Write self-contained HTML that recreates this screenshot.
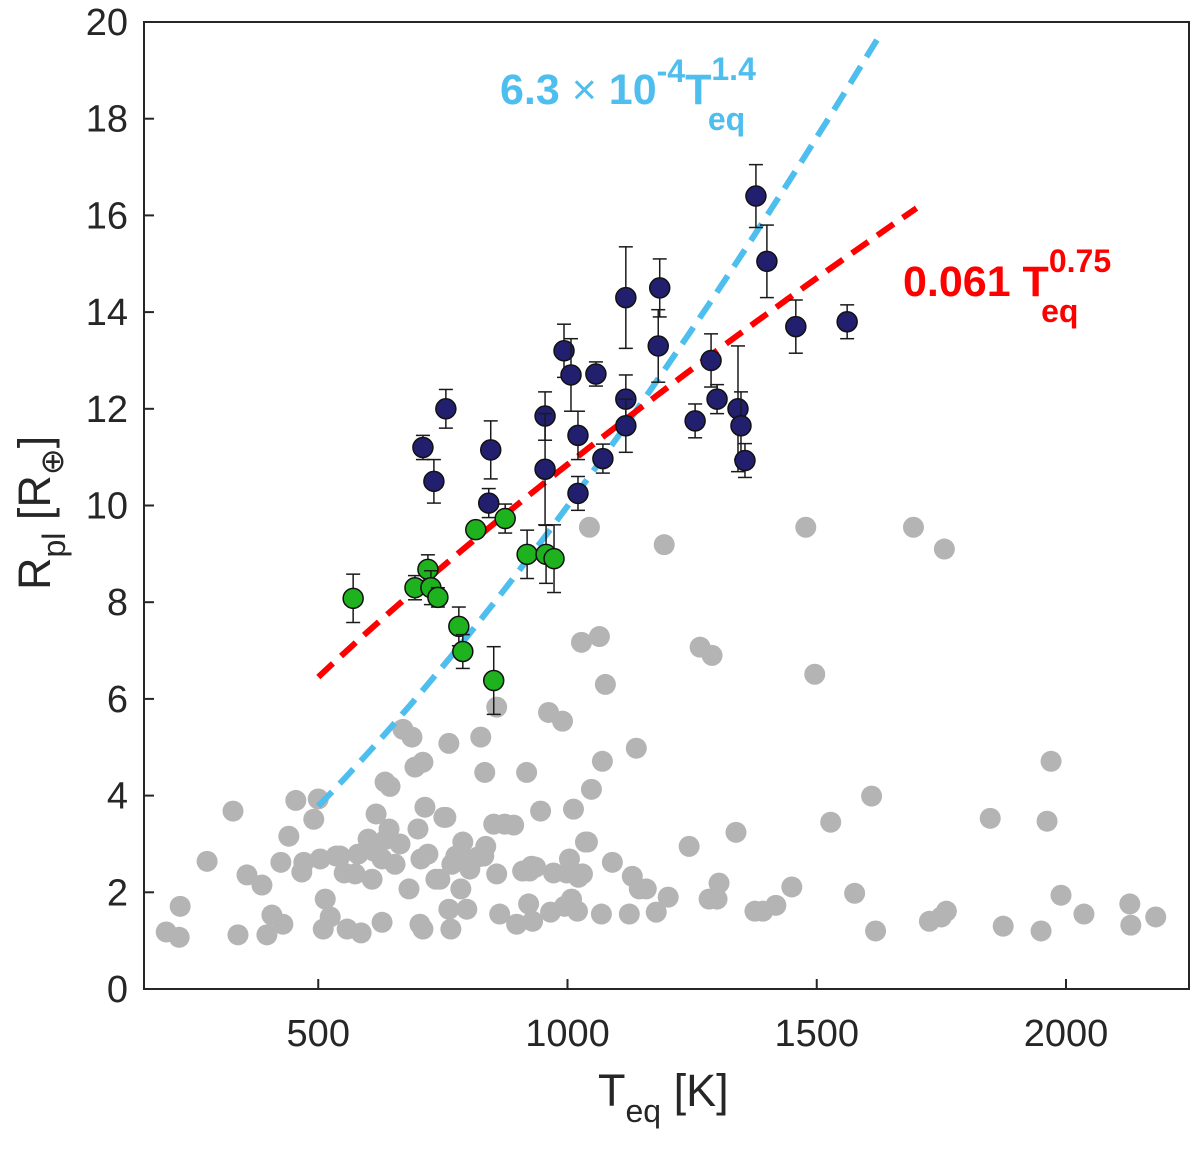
<!DOCTYPE html>
<html><head><meta charset="utf-8"><style>
html,body{margin:0;padding:0;background:#fff;}
svg text{font-family:"Liberation Sans",Arial,sans-serif;fill:#262626;}
</style></head><body>
<svg id="chart" width="1200" height="1145" viewBox="0 0 1200 1145" xmlns="http://www.w3.org/2000/svg">
<g id="plot"></g>
</svg>
<script>
const greyT=[195,221,223,277,329,339,357,387,397,407,425,429,441,455,467,471,491,500,504,510,514,524,536,544,552,558,574,580,586,600,608,612,616,628,628,634,636,642,644,654,664,670,682,688,694,700,704,706,710,710,714,720,736,744,752,756,762,762,766,768,776,786,790,794,798,804,820,826,832,834,836,852,858,858,864,874,892,898,910,918,922,924,928,930,936,946,962,966,972,990,994,998,1004,1008,1012,1020,1022,1030,1036,1040,1044,1048,1028,1064,1068,1070,1076,1090,1124,1130,1138,1144,1158,1178,1194,1202,1244,1266,1284,1290,1300,1304,1338,1376,1392,1418,1450,1478,1496,1528,1576,1610,1618,1694,1726,1750,1760,1756,1848,1874,1950,1962,1970,1990,2036,2128,2130,2180];
const greyR=[1.18,1.07,1.71,2.64,3.68,1.12,2.36,2.15,1.12,1.53,2.62,1.34,3.16,3.9,2.42,2.62,3.51,3.93,2.69,1.24,1.86,1.49,2.75,2.75,2.4,1.24,2.38,2.79,1.16,3.1,2.27,2.85,3.62,2.69,1.38,4.28,3.1,3.31,4.19,2.58,3.0,5.37,2.07,5.21,4.59,3.31,1.34,2.69,1.24,4.69,3.76,2.79,2.27,2.27,3.55,3.55,5.08,1.65,1.24,2.58,2.75,2.07,3.04,2.69,1.65,2.48,2.73,5.21,2.75,4.48,2.95,3.41,5.83,2.38,1.55,3.41,3.39,1.34,2.44,4.48,1.76,2.44,2.54,1.4,2.52,3.68,5.72,1.59,2.4,5.54,1.71,2.4,2.69,1.86,3.72,1.61,2.31,2.38,3.04,3.04,9.55,4.13,7.17,7.29,1.55,4.71,6.3,2.62,1.55,2.33,4.98,2.07,2.07,1.59,9.19,1.9,2.95,7.07,1.86,6.9,1.86,2.19,3.24,1.61,1.61,1.73,2.11,9.55,6.51,3.45,1.98,3.99,1.2,9.55,1.4,1.49,1.61,9.1,3.53,1.3,1.2,3.47,4.71,1.94,1.55,1.76,1.32,1.49];
const blueT=[710,732,756,842,846,955,955,993,1007,1021,1021,1057,1071,1117,1117,1117,1185,1182,1256,1288,1300,1342,1348,1356,1378,1400,1458,1561];
const blueR=[11.2,10.5,12.0,10.05,11.15,11.85,10.75,13.2,12.7,11.45,10.25,12.72,10.97,14.3,12.2,11.65,14.5,13.3,11.75,13.0,12.2,12.0,11.65,10.93,16.4,15.05,13.7,13.8];
const blueErr=[0.25,0.45,0.4,0.3,0.6,0.5,1.15,0.55,0.75,0.5,0.35,0.25,0.3,1.05,0.5,0.55,0.6,0.75,0.35,0.55,0.3,1.3,0.7,0.35,0.65,0.75,0.55,0.35];
const greenT=[570,694,720,726,740,782,790,816,852,875,919,957,973];
const greenR=[8.08,8.3,8.68,8.3,8.1,7.5,6.98,9.5,6.38,9.73,8.99,8.99,8.9];
const greenErr=[0.5,0.25,0.3,0.35,0.2,0.4,0.35,0.15,0.7,0.3,0.5,0.6,0.7];
const xTicks=[500,1000,1500,2000];
const yTicks=[0,2,4,6,8,10,12,14,16,18,20];

const L=144,R=1189,T=22,B=989;
const sx=v=>69+v*0.4985;
const sy=v=>B-(v/20)*(B-T);
const NS="http://www.w3.org/2000/svg";
const plot=document.getElementById('plot');
function mk(tag,attrs,parent){const e=document.createElementNS(NS,tag);for(const k in attrs)e.setAttribute(k,attrs[k]);(parent||plot).appendChild(e);return e;}

const frame=mk('rect',{x:L,y:T,width:R-L,height:B-T,fill:'none',stroke:'#262626','stroke-width':2});


xTicks.forEach(v=>{
  const tk=mk('line',{x1:sx(v),x2:sx(v),y1:B,y2:B-10,stroke:'#262626','stroke-width':2});
  
  
  const t=mk('text',{x:sx(v),y:1046,'text-anchor':'middle','font-size':38});
  t.textContent=v;
  
  
});
yTicks.forEach(v=>{
  const tk=mk('line',{x1:L,x2:L+10,y1:sy(v),y2:sy(v),stroke:'#262626','stroke-width':2});
  
  
  const t=mk('text',{x:128,y:sy(v)+13,'text-anchor':'end','font-size':38});
  t.textContent=v;
  
  
});

function errbar(x,y,e,color){
  const g=mk('g',{stroke:color,'stroke-width':1.5});
  mk('line',{x1:sx(x),x2:sx(x),y1:sy(y+e),y2:sy(y-e)},g);
  mk('line',{x1:sx(x)-7,x2:sx(x)+7,y1:sy(y+e),y2:sy(y+e)},g);
  mk('line',{x1:sx(x)-7,x2:sx(x)+7,y1:sy(y-e),y2:sy(y-e)},g);
  return g;
}
greyT.forEach((x,i)=>{
  const eb=errbar(x,greyR[i],0.15,'#b4b4b4');
  
  
  const c=mk('circle',{cx:sx(x),cy:sy(greyR[i]),r:10.5,fill:'#b4b4b4'});
  
  
});
function fitLine(f,t0,t1,color,name){
  let d='';
  for(let k=0;k<=60;k++){const t=t0+(t1-t0)*k/60;d+=(k?'L':'M')+sx(t).toFixed(1)+','+sy(f(t)).toFixed(1);}
  const p=mk('path',{d:d,fill:'none',stroke:color,'stroke-width':6,'stroke-dasharray':'20 11'});
  
  
}
fitLine(t=>6.3e-4*Math.pow(t,1.4),500,1622,'#4dbeee','fit-line-blue');
fitLine(t=>0.061*Math.pow(t,0.75),500,1700,'#ff0000','fit-line-red');
greenT.forEach((x,i)=>{
  const eb=errbar(x,greenR[i],greenErr[i],'#1a1a1a');
  
  
  const c=mk('circle',{cx:sx(x),cy:sy(greenR[i]),r:10,fill:'#1eb31e',stroke:'#111','stroke-width':1.5});
  
  
});
blueT.forEach((x,i)=>{
  const eb=errbar(x,blueR[i],blueErr[i],'#1a1a1a');
  
  
  const c=mk('circle',{cx:sx(x),cy:sy(blueR[i]),r:10,fill:'#22206e',stroke:'#111','stroke-width':1.5});
  
  
});
</script>
<svg style="position:absolute;left:0;top:0" width="1200" height="1145">
  <text x="500" y="104" font-size="43" font-weight="bold" style="fill:#4dbeee;font-family:'Liberation Sans',sans-serif">6.3<tspan font-weight="normal"> × </tspan>10<tspan dy="-22" font-size="32">-4</tspan><tspan dy="22">T</tspan><tspan dy="-24" font-size="32">1.4</tspan><tspan dx="-48" dy="50" font-size="32">eq</tspan></text>
  <text x="903" y="296" font-size="43" font-weight="bold" style="fill:#ff0000;font-family:'Liberation Sans',sans-serif">0.061 T<tspan dy="-24" font-size="32">0.75</tspan><tspan dx="-70" dy="50" font-size="32">eq</tspan></text>
  <text x="598" y="1106" font-size="45" style="fill:#262626;font-family:'Liberation Sans',sans-serif">T<tspan dy="16" font-size="32">eq</tspan><tspan dy="-16"> [K]</tspan></text>
  <text transform="translate(50,590) rotate(-90)" font-size="45" style="fill:#262626;font-family:'Liberation Sans',sans-serif">R<tspan dy="15" font-size="32">pl</tspan><tspan dy="-15"> [R</tspan><tspan dy="13" font-size="32">⊕</tspan><tspan dy="-13">]</tspan></text>
</svg>
</body></html>
